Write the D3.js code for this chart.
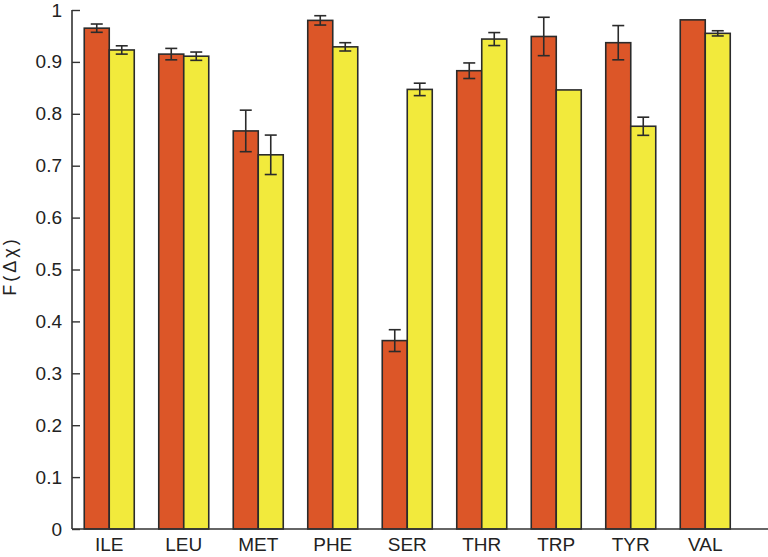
<!DOCTYPE html>
<html><head><meta charset="utf-8">
<script src="https://cdn.jsdelivr.net/npm/d3@7"></script>
<style>body{margin:0;background:#fff}text{font-family:"Liberation Sans",Arial,sans-serif}</style>
</head><body>
<svg id="c" width="768" height="557"></svg>
<script>
const categories = ["ILE","LEU","MET","PHE","SER","THR","TRP","TYR","VAL"];
const series1 = [0.965,0.915,0.767,0.980,0.363,0.883,0.949,0.937,0.981];
const err1    = [0.008,0.011,0.040,0.009,0.021,0.015,0.037,0.033,0];
const series2 = [0.923,0.911,0.721,0.929,0.847,0.944,0.846,0.776,0.955];
const err2    = [0.008,0.008,0.038,0.008,0.012,0.0125,0,0.0175,0.005];
const yTicks = [0,0.1,0.2,0.3,0.4,0.5,0.6,0.7,0.8,0.9,1];
const yTickLabels = ["0","0.1","0.2","0.3","0.4","0.5","0.6","0.7","0.8","0.9","1"];
const colors = ["#DC5628","#F2EA3C"];

const svg = d3.select("#c");
const mLeft = 72, mRight = 742.5, mTop = 10, mBottom = 529;
const x = d3.scaleBand().domain(categories).range([mLeft, mRight]).paddingInner(0).paddingOuter(0);
const y = d3.scaleLinear().domain([0,1]).range([mBottom, mTop]);
const bw = 25;

const data = [];
categories.forEach((c,i)=>{
  data.push({c, s:0, v:series1[i], e:err1[i]});
  data.push({c, s:1, v:series2[i], e:err2[i]});
});

const cx = d => x(d.c) + x.bandwidth()/2 + (d.s===0 ? -bw : 0);

svg.append("g").selectAll("rect").data(data).join("rect")
  .attr("x", cx).attr("width", bw)
  .attr("y", d=>y(d.v)).attr("height", d=>y(0)-y(d.v))
  .attr("fill", d=>colors[d.s]).attr("stroke","#2b2b2b").attr("stroke-width",1.6);

const eg = svg.append("g").attr("stroke","#2b2b2b").attr("stroke-width",1.6);
data.filter(d=>d.e>0).forEach(d=>{
  const mx = cx(d) + bw/2;
  eg.append("line").attr("x1",mx).attr("x2",mx).attr("y1",y(d.v+d.e)).attr("y2",y(d.v-d.e));
  eg.append("line").attr("x1",mx-6).attr("x2",mx+6).attr("y1",y(d.v+d.e)).attr("y2",y(d.v+d.e));
  eg.append("line").attr("x1",mx-6).attr("x2",mx+6).attr("y1",y(d.v-d.e)).attr("y2",y(d.v-d.e));
});

const FONT = "Liberation Sans, Arial, sans-serif";
// y axis
const yAxis = d3.axisLeft(y).tickValues(yTicks).tickFormat((d,i)=>yTickLabels[i]).tickSize(-8).tickPadding(10);
const ga = svg.append("g").attr("transform",`translate(${mLeft},0)`).call(yAxis);
ga.attr("font-size",19).attr("font-family",FONT);
ga.select(".domain").attr("d",`M0,${mTop}V${mBottom}`).attr("stroke","#333").attr("stroke-width",1.6);
ga.selectAll(".tick line").attr("stroke","#333").attr("stroke-width",1.4);
ga.selectAll(".tick text").attr("fill","#222");

// x axis
const xAxis = d3.axisBottom(x).tickSize(0).tickPadding(9);
const gx = svg.append("g").attr("transform",`translate(0,${mBottom})`).call(xAxis);
gx.attr("font-size",19).attr("font-family",FONT);
gx.select(".domain").attr("d",`M${mLeft},0H768`).attr("stroke","#333").attr("stroke-width",1.6);
gx.selectAll(".tick text").attr("fill","#222");

svg.append("text").attr("transform","translate(16,266) rotate(-90)")
  .attr("text-anchor","middle").attr("font-size",18).attr("letter-spacing","3px")
  .attr("font-family",FONT).attr("fill","#222").text("F(Δχ)");
</script>
</body></html>
